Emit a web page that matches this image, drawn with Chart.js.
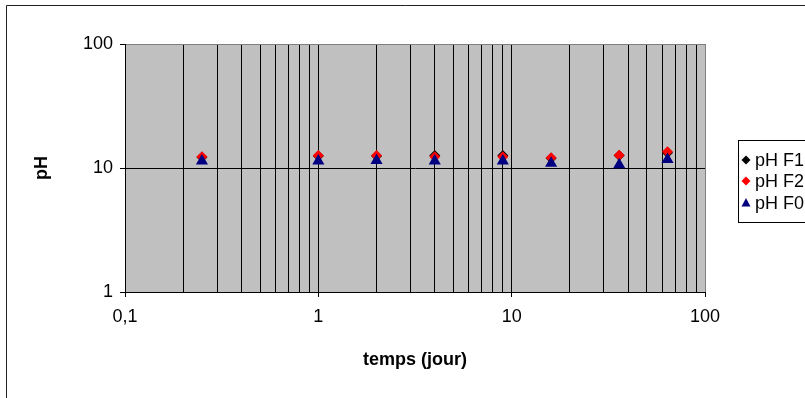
<!DOCTYPE html>
<html>
<head>
<meta charset="utf-8">
<script src="https://cdn.jsdelivr.net/npm/chart.js@4/dist/chart.umd.min.js"></script>
<style>
  html, body { margin: 0; padding: 0; background: #fff; }
  #wrap { width: 805px; height: 398px; position: relative; }
</style>
</head>
<body>
<div id="wrap"><canvas id="c" width="805" height="398"></canvas></div>
<script>
// Sampling times (days) and measured pH for each formulation
const days = [0.25, 1, 2, 4, 9, 16, 36, 64];
const phF1 = [12.2, 12.5, 12.5, 12.6, 12.6, 12.0, 12.6, 13.3];
const phF2 = [12.3, 12.6, 12.6, 12.3, 12.3, 12.1, 12.7, 13.5];
const phF0 = [11.4, 11.4, 11.5, 11.4, 11.4, 10.9, 10.6, 11.7];
const seriesNames = ['pH F1', 'pH F2', 'pH F0'];

// Axis decades (labelled ticks)
const xDecades = [0.1, 1, 10, 100];
const yDecades = [1, 10, 100];

// Log grid: 1..9 within each decade, plus the last decade
function logGrid(decades) {
  const out = [];
  for (let i = 0; i < decades.length - 1; i++) {
    for (let k = 1; k <= 9; k++) out.push(+(decades[i] * k).toPrecision(6));
  }
  out.push(decades[decades.length - 1]);
  return out;
}
const xGrid = logGrid(xDecades);
const yGrid = logGrid(yDecades);

const isDecade = v => Math.abs(Math.log10(v) - Math.round(Math.log10(v))) < 1e-9;
const pts = arr => days.map((d, i) => ({ x: d, y: arr[i] }));

const FONT = 'Liberation Sans, Arial, sans-serif';
const SIZE = 18;
const clear = 'rgba(0,0,0,0)';

const frame = {
  id: 'frame',
  beforeDraw(chart) {
    const ctx = chart.ctx;
    ctx.save();
    ctx.fillStyle = '#fff';
    ctx.fillRect(0, 0, chart.width, chart.height);
    ctx.strokeStyle = '#202020';
    ctx.lineWidth = 1;
    ctx.beginPath();
    ctx.moveTo(6.5, 398);
    ctx.lineTo(6.5, 5.5);
    ctx.lineTo(805, 5.5);
    ctx.stroke();
    const a = chart.chartArea;
    ctx.fillStyle = '#C0C0C0';
    ctx.fillRect(a.left, a.top, a.right - a.left, a.bottom - a.top);
    ctx.restore();
  }
};

const legendBox = {
  id: 'legendBox',
  afterDraw(chart) {
    const ctx = chart.ctx;
    ctx.save();
    ctx.strokeStyle = '#000';
    ctx.lineWidth = 1;
    ctx.strokeRect(738.5, 140.5, 100, 82);
    const rows = [160, 181, 203];
    ctx.font = SIZE + 'px ' + FONT;
    ctx.textBaseline = 'middle';
    ctx.textAlign = 'left';
    chart.data.datasets.forEach((ds, r) => {
      const y = rows[r];
      const x = 746;
      ctx.fillStyle = ds.backgroundColor;
      ctx.beginPath();
      if (ds.pointStyle === 'triangle') {
        ctx.moveTo(x, y - 5);
        ctx.lineTo(x + 4.5, y + 3.5);
        ctx.lineTo(x - 4.5, y + 3.5);
      } else {
        ctx.moveTo(x, y - 4.5);
        ctx.lineTo(x + 4.5, y);
        ctx.lineTo(x, y + 4.5);
        ctx.lineTo(x - 4.5, y);
      }
      ctx.closePath();
      ctx.fill();
      ctx.fillStyle = '#000';
      ctx.fillText(ds.label, 755, y + 1);
    });
    ctx.restore();
  }
};

new Chart(document.getElementById('c'), {
  type: 'scatter',
  data: {
    datasets: [
      { label: seriesNames[0], data: pts(phF1), pointStyle: 'rectRot', radius: 5.5,
        backgroundColor: '#000000', borderColor: '#000000', borderWidth: 0, order: 2 },
      { label: seriesNames[1], data: pts(phF2), pointStyle: 'rectRot', radius: 5.5,
        backgroundColor: '#FF0000', borderColor: '#FF0000', borderWidth: 0, order: 1 },
      { label: seriesNames[2], data: pts(phF0), pointStyle: 'triangle', radius: 7,
        backgroundColor: '#000080', borderColor: '#000080', borderWidth: 0, order: 0 }
    ]
  },
  options: {
    responsive: false,
    animation: false,
    events: [],
    layout: { padding: { left: 0, top: 44, right: 100, bottom: 0 } },
    plugins: { legend: { display: false }, tooltip: { enabled: false } },
    scales: {
      x: {
        type: 'logarithmic',
        min: xDecades[0],
        max: xDecades[xDecades.length - 1],
        afterBuildTicks: s => { s.ticks = xGrid.map(v => ({ value: v })); },
        afterFit: s => { s.height = 106; },
        border: { color: '#000', width: 1 },
        grid: {
          color: c => (c.tick && c.tick.value === 100) ? '#808080' : '#000',
          tickColor: c => (c.tick && isDecade(c.tick.value)) ? '#000' : clear,
          tickLength: 5,
          lineWidth: 1
        },
        ticks: {
          autoSkip: false,
          maxRotation: 0,
          padding: 9,
          color: '#000',
          font: { family: FONT, size: SIZE },
          callback: v => isDecade(v) ? String(v).replace('.', ',') : ''
        },
        title: {
          display: true,
          text: 'temps (jour)',
          color: '#000',
          font: { family: FONT, size: SIZE, weight: 'bold' },
          padding: { top: 0, bottom: 27 }
        }
      },
      y: {
        type: 'logarithmic',
        min: yDecades[0],
        max: yDecades[yDecades.length - 1],
        afterBuildTicks: s => { s.ticks = yGrid.map(v => ({ value: v })); },
        afterFit: s => { s.width = 125; },
        border: { color: '#000', width: 1 },
        grid: {
          color: c => {
            if (!c.tick || !isDecade(c.tick.value)) return clear;
            return c.tick.value === 100 ? '#808080' : '#000';
          },
          tickColor: c => (c.tick && isDecade(c.tick.value)) ? '#000' : clear,
          tickLength: 5,
          lineWidth: 1
        },
        ticks: {
          autoSkip: false,
          padding: 7,
          color: '#000',
          font: { family: FONT, size: SIZE },
          callback: v => isDecade(v) ? String(v) : ''
        },
        title: {
          display: true,
          text: 'pH',
          color: '#000',
          font: { family: FONT, size: SIZE, weight: 'bold' },
          padding: { top: 31, bottom: 0 }
        }
      }
    }
  },
  plugins: [frame, legendBox]
});
</script>
</body>
</html>
